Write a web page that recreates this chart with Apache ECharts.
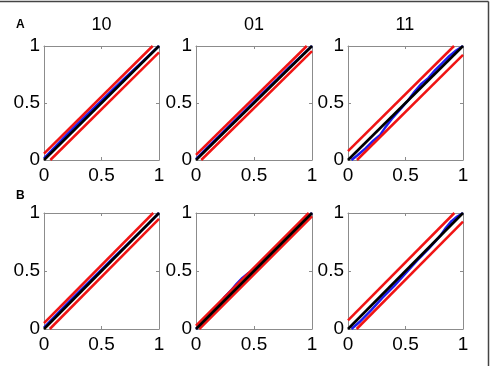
<!DOCTYPE html>
<html>
<head>
<meta charset="utf-8">
<script src="https://cdn.jsdelivr.net/npm/echarts@6/dist/echarts.min.js"></script>
<style>
  html, body { margin: 0; padding: 0; background: #fff; }
  #chart { width: 495px; height: 366px; }
</style>
</head>
<body>
<div id="chart"></div>
<script>
// column titles and row letters
var colTitles = ['10', '01', '11'];
var rowLetters = ['A', 'B'];
var tickValues = [0, 0.5, 1];

// diagonal reference
var diagonal = [[0, 0], [1, 1]];

// red band lines, panels A1 A2 A3 B1 B2 B3
var redUpper = [
	[[0, 0.055], [0.945, 1]],
	[[0, 0.045], [0.955, 1]],
	[[0, 0.078], [0.922, 1]],
	[[0, 0.05], [0.95, 1]],
	[[0, 0.028], [0.972, 1]],
	[[0, 0.075], [0.925, 1]]
];
var redLower = [
	[[0.055, 0], [1, 0.945]],
	[[0.045, 0], [1, 0.955]],
	[[0.078, 0], [1, 0.922]],
	[[0.05, 0], [1, 0.95]],
	[[0.028, 0], [1, 0.972]],
	[[0.075, 0], [1, 0.925]]
];

// blue empirical curves
var blueA1 = [[0, 0.015], [0.05, 0.068], [0.1, 0.12], [0.2, 0.225], [0.3, 0.325], [0.4, 0.425], [0.5, 0.52], [0.6, 0.62], [0.7, 0.715], [0.8, 0.81], [0.9, 0.905], [1, 1]];
var blueA2 = [[0, 0.008], [0.1, 0.112], [0.2, 0.212], [0.3, 0.312], [0.4, 0.412], [0.5, 0.512], [0.6, 0.612], [0.7, 0.71], [0.8, 0.81], [0.9, 0.905], [1, 1]];
var blueA3 = [[0.03, 0], [0.08, 0.04], [0.15, 0.1], [0.22, 0.17], [0.28, 0.22], [0.32, 0.28], [0.38, 0.36], [0.45, 0.44], [0.52, 0.52], [0.58, 0.6], [0.64, 0.67], [0.7, 0.72], [0.76, 0.79], [0.82, 0.85], [0.88, 0.91], [0.94, 0.96], [1, 1]];
var blueB1 = [[0, 0.012], [0.1, 0.115], [0.2, 0.218], [0.3, 0.318], [0.4, 0.414], [0.5, 0.512], [0.6, 0.61], [0.7, 0.706], [0.8, 0.803], [0.9, 0.9], [1, 1]];
var blueB2 = [[0, 0], [0.1, 0.1], [0.2, 0.21], [0.25, 0.28], [0.3, 0.33], [0.35, 0.39], [0.4, 0.44], [0.45, 0.48], [0.5, 0.51], [0.6, 0.61], [0.7, 0.7], [0.8, 0.8], [0.9, 0.9], [1, 1]];
var blueB3 = [[0.03, 0], [0.1, 0.06], [0.2, 0.16], [0.3, 0.27], [0.4, 0.37], [0.5, 0.48], [0.6, 0.59], [0.7, 0.69], [0.8, 0.8], [0.85, 0.87], [0.9, 0.93], [0.95, 0.97], [1, 1]];
var blueCurves = [blueA1, blueA2, blueA3, blueB1, blueB2, blueB3];

var FONT = '"Liberation Sans", Arial, sans-serif';
var colLeft = [44, 196, 348];
var colWidth = [115, 116, 115];
var rowTop = [46, 213];
var rowHeight = [114, 116];
var axisGray = '#8c8c8c';

var grids = [], xAxes = [], yAxes = [], series = [], graphics = [];

for (var r = 0; r < 2; r++) {
	for (var c = 0; c < 3; c++) {
		var i = r * 3 + c;
		grids.push({left: colLeft[c], top: rowTop[r], width: colWidth[c], height: rowHeight[r]});
		var base = {
			type: 'value', min: 0, max: 1, interval: 0.5, gridIndex: i,
			splitLine: {show: false},
			axisLine: {show: true, onZero: false, lineStyle: {color: axisGray, width: 1}},
			axisTick: {show: true, inside: true, length: 3, lineStyle: {color: axisGray}}
		};
		var lbl = {
			color: '#000', fontSize: 19, fontFamily: FONT,
			formatter: function (v) { return tickValues.indexOf(v) >= 0 ? String(v) : ''; }
		};
		xAxes.push(Object.assign({}, base, {position: 'bottom', axisLabel: Object.assign({margin: 6}, lbl)}));
		xAxes.push(Object.assign({}, base, {position: 'top', axisLabel: {show: false}}));
		yAxes.push(Object.assign({}, base, {position: 'left', axisLabel: Object.assign({margin: 4}, lbl)}));
		yAxes.push(Object.assign({}, base, {position: 'right', axisLabel: {show: false}}));

		var xi = i * 2, yi = i * 2;
		var common = {type: 'line', xAxisIndex: xi, yAxisIndex: yi, showSymbol: false, silent: true, animation: false, clip: true};
		series.push(Object.assign({}, common, {data: blueCurves[i], lineStyle: {color: '#1c1cf0', width: 2.5}}));
		series.push(Object.assign({}, common, {data: redUpper[i], lineStyle: {color: '#f01414', width: 2.5}}));
		series.push(Object.assign({}, common, {data: redLower[i], lineStyle: {color: '#f01414', width: 2.5}}));
		series.push(Object.assign({}, common, {data: diagonal, lineStyle: {color: '#000', width: 2.6}}));

		if (r === 0) {
			graphics.push({
				type: 'text', left: colLeft[c] + colWidth[c] / 2 - 10, top: 16,
				style: {text: colTitles[c], fill: '#000', font: '18px ' + FONT}
			});
		}
	}
	graphics.push({
		type: 'text', left: 16, top: r === 0 ? 19 : 190,
		style: {text: rowLetters[r], fill: '#000', font: 'bold 12px ' + FONT}
	});
}

// figure frame (top and right edges)
graphics.push({type: 'line', shape: {x1: 0, y1: 1.5, x2: 488.5, y2: 1.5}, style: {stroke: '#444', lineWidth: 1.5}});
graphics.push({type: 'line', shape: {x1: 488.5, y1: 1.5, x2: 488.5, y2: 366}, style: {stroke: '#444', lineWidth: 1.5}});

var myChart = echarts.init(document.getElementById('chart'));
myChart.setOption({
	animation: false,
	backgroundColor: '#fff',
	grid: grids,
	xAxis: xAxes,
	yAxis: yAxes,
	series: series,
	graphic: graphics
});
</script>
</body>
</html>
